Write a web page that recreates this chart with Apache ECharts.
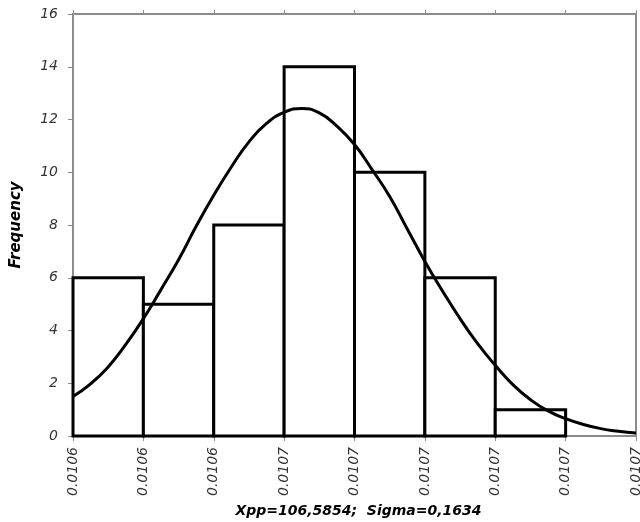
<!DOCTYPE html>
<html>
<head>
<meta charset="utf-8">
<script src="https://cdn.jsdelivr.net/npm/echarts@6/dist/echarts.min.js"></script>
<style>
  html, body { margin: 0; padding: 0; background: #fff; }
  #chart { width: 640px; height: 522px; }
</style>
</head>
<body>
<div id="chart"></div>
<script>
// tick labels along the x axis (bin edges)
const xTickLabels = ['0.0106', '0.0106', '0.0106', '0.0107', '0.0107', '0.0107', '0.0107', '0.0107', '0.0107'];
// histogram bins: [start, end] in bin-edge index units, frequency
const binStart = [0, 1, 2, 3, 4, 5, 6, 7];
const binEnd   = [1, 2, 3, 4, 5, 6, 7, 8];
const binFreq  = [6, 5, 8, 14, 10, 6, 1, 0];
// fitted normal curve (position, frequency)
const curveX = [0, 0.25, 0.5, 0.75, 1.0, 1.25, 1.5, 1.75, 2.0, 2.25, 2.5, 2.75, 3.0, 3.25, 3.5, 3.75, 4.0,
                4.25, 4.5, 4.75, 5.0, 5.25, 5.5, 5.75, 6.0, 6.25, 6.5, 6.75, 7.0, 7.25, 7.5, 7.75, 8.0];
const curveY = [1.5, 1.98, 2.62, 3.47, 4.45, 5.55, 6.68, 7.95, 9.13, 10.2, 11.15, 11.85, 12.27, 12.42, 12.25, 11.75, 11.05,
                10.1, 9.08, 7.85, 6.62, 5.5, 4.45, 3.5, 2.68, 1.95, 1.38, 0.95, 0.66, 0.44, 0.28, 0.18, 0.11];

const xTitle = 'Xpp=106,5854;  Sigma=0,1634';
const yTitle = 'Frequency';

const axisGray = '#8c8c8c';
const chart = echarts.init(document.getElementById('chart'));

const bins = binFreq.map((f, i) => [binStart[i], binEnd[i], f]);
const curve = curveX.map((x, i) => [x, curveY[i]]);

chart.setOption({
  animation: false,
  grid: { left: 73, right: 4, top: 14, bottom: 86, outerBoundsMode: 'none' },
  xAxis: [{
    type: 'value',
    min: 0, max: 8, interval: 1,
    name: xTitle,
    nameLocation: 'middle',
    nameGap: 67,
    nameTextStyle: { fontFamily: 'DejaVu Sans', fontStyle: 'italic', fontWeight: 'bold', fontSize: 14, color: '#000', padding: [0, 0, 0, 8] },
    axisLine: { show: true, onZero: false, lineStyle: { color: axisGray, width: 2 } },
    axisTick: { show: true, length: 5, lineStyle: { color: axisGray } },
    splitLine: { show: false },
    axisLabel: {
      rotate: 90, margin: 11,
      fontFamily: 'DejaVu Sans', fontStyle: 'italic', fontSize: 14, color: '#333',
      formatter: v => xTickLabels[Math.round(v)]
    }
  }, {
    type: 'value',
    position: 'top',
    min: 0, max: 8, interval: 1,
    axisLine: { show: true, onZero: false, lineStyle: { color: axisGray, width: 2 } },
    axisTick: { show: true, length: 4, lineStyle: { color: axisGray } },
    axisLabel: { show: false },
    splitLine: { show: false }
  }],
  yAxis: [{
    type: 'value',
    min: 0, max: 16, interval: 2,
    name: yTitle,
    nameLocation: 'middle',
    nameGap: 49,
    nameTextStyle: { fontFamily: 'DejaVu Sans', fontStyle: 'italic', fontWeight: 'bold', fontSize: 15, color: '#000' },
    axisLine: { show: true, onZero: false, lineStyle: { color: axisGray, width: 2 } },
    axisTick: { show: true, length: 5, lineStyle: { color: axisGray } },
    splitLine: { show: false },
    axisLabel: { margin: 15, fontFamily: 'DejaVu Sans', fontStyle: 'italic', fontSize: 14, color: '#333' }
  }, {
    type: 'value',
    position: 'right',
    min: 0, max: 16, interval: 2,
    axisLine: { show: true, onZero: false, lineStyle: { color: axisGray, width: 2 } },
    axisTick: { show: false },
    axisLabel: { show: false },
    splitLine: { show: false }
  }],
  series: [{
    type: 'custom',
    data: bins,
    encode: { x: [0, 1], y: 2 },
    renderItem: (params, api) => {
      const p0 = api.coord([api.value(0), 0]);
      const p1 = api.coord([api.value(1), api.value(2)]);
      if (api.value(2) <= 0) return null;
      return {
        type: 'rect',
        shape: { x: p0[0], y: p1[1], width: p1[0] - p0[0], height: p0[1] - p1[1] },
        style: { fill: '#fff', stroke: '#000', lineWidth: 3 }
      };
    }
  }, {
    type: 'line',
    data: curve,
    smooth: 0.5,
    showSymbol: false,
    lineStyle: { color: '#000', width: 3 },
    z: 3
  }]
});
</script>
</body>
</html>
